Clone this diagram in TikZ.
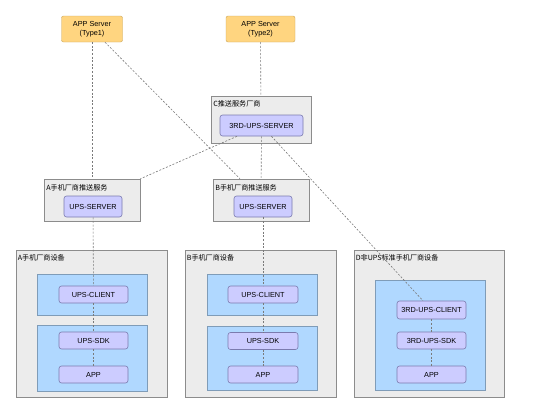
\documentclass[tikz,border=0pt]{standalone}
\usepackage{fontspec}
\setmainfont{Liberation Sans}
\newfontfamily\cjk{Noto Sans CJK SC}
\usepackage{xcolor}
\usetikzlibrary{positioning,calc}
\definecolor{srvfill}{HTML}{FFD580}
\definecolor{srvline}{HTML}{C9A55A}
\definecolor{grpfill}{HTML}{ECECEC}
\definecolor{grpline}{HTML}{8C8C8C}
\definecolor{devfill}{HTML}{B0D8FF}
\definecolor{devline}{HTML}{7F9CB8}
\definecolor{upsfill}{HTML}{CCCCFF}
\definecolor{upsline}{HTML}{7B7BAE}
\definecolor{linkgray}{HTML}{7A7A7A}

\begin{document}
\begin{tikzpicture}[x=1pt,y=-1pt,
    every node/.style={font=\fontsize{7.3}{8.6}\selectfont, inner sep=0pt},
    appsrv/.style={draw=srvline, fill=srvfill, rounded corners=2pt, align=center,
        minimum width=61pt, minimum height=26pt},
    grpbox/.style={draw=grpline, fill=grpfill, line width=0.7pt},
    grptxt/.style={font=\cjk\fontsize{7.1}{8.4}\selectfont, anchor=west},
    devbox/.style={draw=devline, fill=devfill, line width=0.6pt},
    upsbox/.style={draw=upsline, fill=upsfill, rounded corners=2.5pt, line width=0.6pt,
        minimum width=69pt, minimum height=17pt},
    link/.style={draw=linkgray, dash pattern=on 2pt off 1.6pt, line width=0.6pt}]
    \useasboundingbox (0,0) rectangle (550,407);

    % App servers
    \node[appsrv] (type1) at (92,29) {APP Server\\(Type1)};
    \node[appsrv, minimum width=69pt] (type2) at (260.5,29) {APP Server\\(Type2)};

    % Third party push vendor
    \node[grpbox, minimum width=100pt, minimum height=47pt] (grpC) at (261,119.5) {};
    \node[grptxt] at ([shift={(2.5,8)}]grpC.north west) {C推送服务厂商};
    \node[upsbox, minimum width=83pt, minimum height=21pt] (srv3rd) at (261.5,125.5) {3RD-UPS-SERVER};

    % Vendor push services
    \node[grpbox, minimum width=96pt, minimum height=42pt] (grpA) at (92,200) {};
    \node[grptxt] at ([shift={(2.5,9)}]grpA.north west) {A手机厂商推送服务};
    \node[upsbox, minimum width=58pt, minimum height=21pt] (srvA) at (93,206.5) {UPS-SERVER};

    \node[grpbox, minimum width=96pt, minimum height=42pt] (grpB) at (261,200) {};
    \node[grptxt] at ([shift={(2.5,9)}]grpB.north west) {B手机厂商推送服务};
    \node[upsbox, minimum width=58pt, minimum height=21pt] (srvB) at (263,206.5) {UPS-SERVER};

    % Devices
    \node[grpbox, minimum width=151pt, minimum height=147pt] (devA) at (91.5,323.5) {};
    \node[grptxt] at ([shift={(2,8)}]devA.north west) {A手机厂商设备};
    \node[devbox, minimum width=110pt, minimum height=41pt] (cliA) at (92,294.5) {};
    \node[devbox, minimum width=110pt, minimum height=66pt] (sysA) at (92,358) {};
    \node[upsbox] (clientA) at (93.5,294.5) {UPS-CLIENT};
    \node[upsbox] (sdkA) at (93.5,340.5) {UPS-SDK};
    \node[upsbox] (appA) at (93.5,374.5) {APP};

    \node[grpbox, minimum width=151pt, minimum height=147pt] (devB) at (260.5,323.5) {};
    \node[grptxt] at ([shift={(2,8)}]devB.north west) {B手机厂商设备};
    \node[devbox, minimum width=110pt, minimum height=41pt] (cliB) at (262,294.5) {};
    \node[devbox, minimum width=110pt, minimum height=64pt] (sysB) at (262,358) {};
    \node[upsbox, minimum width=70pt] (clientB) at (263,294.5) {UPS-CLIENT};
    \node[upsbox, minimum width=70pt] (sdkB) at (263,341) {UPS-SDK};
    \node[upsbox, minimum width=70pt] (appB) at (263,374.5) {APP};

    \node[grpbox, minimum width=150pt, minimum height=147pt] (devD) at (429,323.5) {};
    \node[grptxt] at ([shift={(2,8)}]devD.north west) {D非UPS标准手机厂商设备};
    \node[devbox, minimum width=110pt, minimum height=110pt] (sysD) at (430,335) {};
    \node[upsbox, minimum height=18pt] (clientD) at (431.5,310) {3RD-UPS-CLIENT};
    \node[upsbox] (sdkD) at (431.5,340.5) {3RD-UPS-SDK};
    \node[upsbox] (appD) at (431.5,374.5) {APP};

    % Links
    \draw[link] (type1) -- (grpA);
    \draw[link] (type1) -- (grpB);
    \draw[link] (type2) -- (grpC);
    \draw[link] (srv3rd) -- (grpA);
    \draw[link] (srv3rd) -- (grpB);
    \draw[link] (srv3rd) -- (clientD);
    \draw[link] (srvA) -- (clientA);
    \draw[link] (srvB) -- (clientB);
    \foreach \d in {A,B,D}
        \draw[link] (client\d) -- (sdk\d) -- (app\d);
\end{tikzpicture}
\end{document}
